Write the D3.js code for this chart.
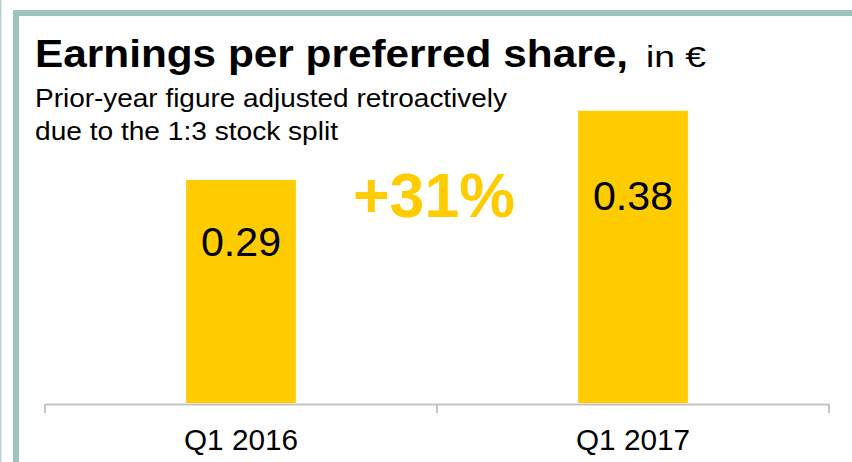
<!DOCTYPE html>
<html>
<head>
<meta charset="utf-8">
<script src="https://cdn.jsdelivr.net/npm/d3@7/dist/d3.min.js"></script>
<style>
html,body{margin:0;padding:0;background:#fff;}
svg{display:block;font-family:"Liberation Sans",Arial,Helvetica,sans-serif;}
</style>
</head>
<body>
<svg id="chart" width="852" height="462"></svg>
<script>
const categories = ["Q1 2016", "Q1 2017"];
const values = [0.29, 0.38];
const valueLabels = ["0.29", "0.38"];
const changeLabel = "+31%";
const titleBold = "Earnings per preferred share,";
const titleUnit = "in €";
const subtitleLines = ["Prior-year figure adjusted retroactively", "due to the 1:3 stock split"];

const svg = d3.select("#chart");
const W = 852, H = 462;
const yellow = "#FFCC00";
const teal = "#9CC3BD";
const axisGray = "#C4C4C4";

// frame
svg.append("rect").attr("x", 0).attr("y", 0).attr("width", 1.5).attr("height", H).attr("fill", "#B4D4CF");
svg.append("rect").attr("x", 13).attr("y", 10).attr("width", 6).attr("height", H - 10).attr("fill", teal);
svg.append("rect").attr("x", 13).attr("y", 10).attr("width", W - 13).attr("height", 6).attr("fill", teal);

// scales
const xb = d3.scaleBand().domain(categories).range([45, 829]).padding(0);
const barFrac = 0.28;
const y = d3.scaleLinear().domain([0, 0.4]).range([403, 403 - 0.4 * 769]);

// bars
svg.selectAll("rect.bar").data(values).join("rect")
  .attr("class", "bar")
  .attr("x", (d, i) => xb(categories[i]) + xb.bandwidth() * (1 - barFrac) / 2)
  .attr("width", xb.bandwidth() * barFrac)
  .attr("y", d => y(d))
  .attr("height", d => y(0) - y(d))
  .attr("fill", yellow);

// value labels
svg.selectAll("text.val").data(values).join("text")
  .attr("class", "val")
  .attr("x", (d, i) => xb(categories[i]) + xb.bandwidth() / 2)
  .attr("y", d => y(d * 0.66))
  .attr("text-anchor", "middle")
  .attr("font-size", 41)
  .attr("textLength", 80)
  .attr("lengthAdjust", "spacingAndGlyphs")
  .attr("fill", "#000")
  .text((d, i) => valueLabels[i]);

// axis
const axisG = svg.append("g").attr("transform", "translate(0,404)");
axisG.call(d3.axisBottom(xb).tickSize(0).tickPadding(0));
axisG.select(".domain").attr("stroke", axisGray).attr("stroke-width", 2);
axisG.selectAll(".tick text")
  .attr("font-size", 29)
  .attr("font-family", "Liberation Sans, Arial, sans-serif")
  .attr("fill", "#000")
  .attr("dy", null)
  .attr("y", 46)
  .attr("textLength", 114)
  .attr("lengthAdjust", "spacingAndGlyphs");
const bounds = categories.map(c => xb(c)).concat([xb.range()[1]]);
axisG.selectAll("line.bound").data(bounds).join("line")
  .attr("class", "bound")
  .attr("x1", d => d).attr("x2", d => d)
  .attr("y1", 0).attr("y2", 9)
  .attr("stroke", axisGray).attr("stroke-width", 2);

// change label
svg.append("text")
  .attr("x", 434)
  .attr("y", 217)
  .attr("text-anchor", "middle")
  .attr("font-size", 63)
  .attr("font-weight", "bold")
  .attr("textLength", 162)
  .attr("lengthAdjust", "spacingAndGlyphs")
  .attr("fill", yellow)
  .text(changeLabel);

// title
svg.append("text").attr("x", 35).attr("y", 67).attr("fill", "#000")
  .attr("font-size", 38).attr("font-weight", "bold")
  .attr("textLength", 593).attr("lengthAdjust", "spacingAndGlyphs")
  .text(titleBold);
svg.append("text").attr("x", 646).attr("y", 67).attr("fill", "#000")
  .attr("font-size", 30)
  .attr("textLength", 60).attr("lengthAdjust", "spacingAndGlyphs")
  .text(titleUnit);

const subLens = [472, 303];
svg.selectAll("text.sub").data(subtitleLines).join("text")
  .attr("class", "sub")
  .attr("x", 35)
  .attr("y", (d, i) => 107 + i * 33)
  .attr("font-size", 26)
  .attr("textLength", (d, i) => subLens[i])
  .attr("lengthAdjust", "spacingAndGlyphs")
  .attr("fill", "#000")
  .text(d => d);
</script>
</body>
</html>
